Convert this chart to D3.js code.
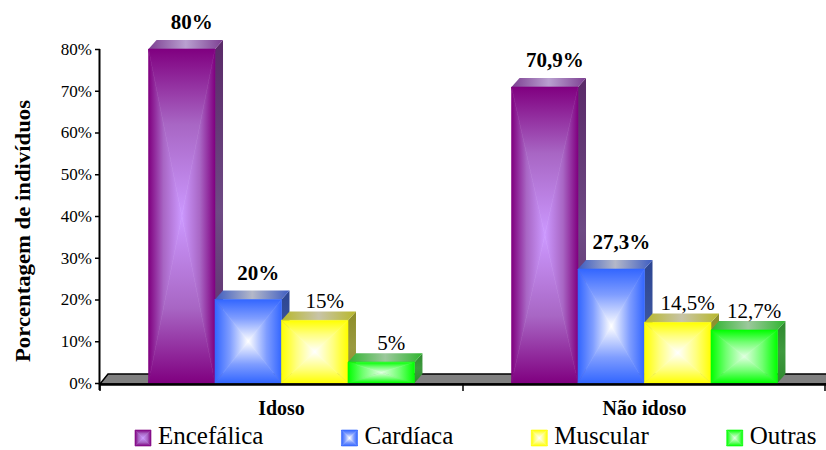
<!DOCTYPE html>
<html>
<head>
<meta charset="utf-8">
<script src="https://cdn.jsdelivr.net/npm/d3@7"></script>
</head>
<body style="margin:0">
<svg id="chart" width="826" height="450"></svg>
<script>
// Causes of death by age group (percent of individuals)
const categories = ["Idoso", "Não idoso"];
const seriesNames = ["Encefálica", "Cardíaca", "Muscular", "Outras"];
const idosoValues = [80, 20, 15, 5];
const naoIdosoValues = [70.9, 27.3, 14.5, 12.7];
const yTickValues = [0, 10, 20, 30, 40, 50, 60, 70, 80];
const boldLabelSeries = ["Encefálica", "Cardíaca"];

const FONT = "Liberation Serif";

// Per-series shading: front face goes from edge colour to a bright centre
const palette = {
  "Encefálica": { edge: "#800080", mid: "#a866c4", center: "#cc99ff", side: "#5a2a68", sideLight: "#6e4a84", top: "#7d3f92", topHi: "#b9a0d0" },
  "Cardíaca":   { edge: "#3366ff", mid: "#7f9dff", center: "#ffffff", side: "#2c4592", sideLight: "#3c559e", top: "#3d5cc2", topHi: "#b4b8c8" },
  "Muscular":   { edge: "#ffff00", mid: "#ffff80", center: "#ffffff", side: "#8c8c28", sideLight: "#9a9a40", top: "#b8b82a", topHi: "#c8c4a8" },
  "Outras":     { edge: "#00ff00", mid: "#70ff70", center: "#e0ffe0", side: "#2f8a2f", sideLight: "#3f9a3f", top: "#2fb52f", topHi: "#9cc89c" }
};

const rows = categories.map((c, i) => ({
  category: c,
  values: seriesNames.map((s, j) => ({ series: s, value: (i === 0 ? idosoValues : naoIdosoValues)[j] }))
}));

const svg = d3.select("#chart");
const defs = svg.append("defs");

const ptBR = d3.formatLocale({ decimal: ",", thousands: ".", grouping: [3], currency: ["R$", ""] });
const fmtInt = ptBR.format(".0f");
const fmtDec = ptBR.format(".1f");
const pctLabel = v => (Number.isInteger(v) ? fmtInt(v) : fmtDec(v)) + "%";

// Scales
const x0 = d3.scaleBand().domain(categories).range([100, 826]).paddingInner(0).paddingOuter(0);
const x1 = d3.scaleBand().domain(seriesNames).range([0, x0.bandwidth()]).paddingInner(0).paddingOuter(0.73);
const y = d3.scaleLinear().domain([0, 80]).range([383, 49]);
const depthX = 8, depthY = 9;

// Gradients
const keyOf = s => "s" + seriesNames.indexOf(s);
seriesNames.forEach(s => {
  const p = palette[s], k = keyOf(s);
  const dirs = { t: [0, 0, 0, 1], b: [0, 1, 0, 0], l: [0, 0, 1, 0], r: [1, 0, 0, 0] };
  Object.entries(dirs).forEach(([d, c]) => {
    const g = defs.append("linearGradient").attr("id", `${k}-${d}`)
      .attr("x1", c[0]).attr("y1", c[1]).attr("x2", c[2]).attr("y2", c[3]);
    g.append("stop").attr("offset", 0).attr("stop-color", p.edge);
    g.append("stop").attr("offset", 0.45).attr("stop-color", p.mid);
    g.append("stop").attr("offset", 1).attr("stop-color", p.center);
  });
  const top = defs.append("linearGradient").attr("id", `${k}-top`).attr("x1", 0).attr("x2", 1).attr("y1", 0).attr("y2", 0);
  top.append("stop").attr("offset", 0).attr("stop-color", p.top);
  top.append("stop").attr("offset", 0.5).attr("stop-color", p.topHi);
  top.append("stop").attr("offset", 1).attr("stop-color", p.top);
  const side = defs.append("linearGradient").attr("id", `${k}-side`).attr("x1", 0).attr("x2", 0).attr("y1", 0).attr("y2", 1);
  side.append("stop").attr("offset", 0).attr("stop-color", p.side);
  side.append("stop").attr("offset", 0.5).attr("stop-color", p.sideLight);
  side.append("stop").attr("offset", 1).attr("stop-color", p.side);
});

// Rectangle filled with a centre-out gradient built from four triangles
function pillow(g, x, yy, w, h, k) {
  const cx = x + w / 2, cy = yy + h / 2;
  const tris = [
    ["t", [[x, yy], [x + w, yy], [cx, cy]]],
    ["b", [[x, yy + h], [x + w, yy + h], [cx, cy]]],
    ["l", [[x, yy], [x, yy + h], [cx, cy]]],
    ["r", [[x + w, yy], [x + w, yy + h], [cx, cy]]]
  ];
  tris.forEach(([d, pts]) => {
    g.append("polygon").attr("points", pts.map(q => q.join(",")).join(" "))
      .attr("fill", `url(#${k}-${d})`).attr("stroke", `url(#${k}-${d})`).attr("stroke-width", 0.6);
  });
}

// Floor
const y0 = y(0);
svg.append("polygon")
  .attr("points", [[100, y0 + 1], [100 + depthX, y0 - depthY], [826 + depthX, y0 - depthY], [826, y0 + 1]].map(q => q.join(",")).join(" "))
  .attr("fill", "#808080").attr("stroke", "#000").attr("stroke-width", 1.5);

// Bars
const barsG = svg.append("g");
rows.forEach(r => {
  r.values.forEach(d => {
    const k = keyOf(d.series);
    const bx = x0(r.category) + x1(d.series);
    const bw = x1.bandwidth();
    const by = y(d.value);
    const g = barsG.append("g");
    // side face
    g.append("polygon")
      .attr("points", [[bx + bw, by], [bx + bw + depthX, by - depthY], [bx + bw + depthX, y0 - depthY], [bx + bw, y0]].map(q => q.join(",")).join(" "))
      .attr("fill", `url(#${k}-side)`);
    // top face
    g.append("polygon")
      .attr("points", [[bx, by], [bx + depthX, by - depthY], [bx + bw + depthX, by - depthY], [bx + bw, by]].map(q => q.join(",")).join(" "))
      .attr("fill", `url(#${k}-top)`);
    // front face
    pillow(g, bx, by, bw, y0 - by, k);
  });
});

// Value labels
const labelData = rows.flatMap(r => r.values.map(d => ({ ...d, category: r.category })));
svg.selectAll(".vlabel").data(labelData).enter().append("text")
  .attr("class", "vlabel")
  .attr("x", d => x0(d.category) + x1(d.series) + x1.bandwidth() / 2 + 10)
  .attr("y", d => y(d.value) - depthY - (boldLabelSeries.includes(d.series) ? 11 : 3))
  .attr("text-anchor", "middle")
  .attr("font-family", FONT)
  .attr("font-size", 21)
  .attr("font-weight", d => boldLabelSeries.includes(d.series) ? "bold" : "normal")
  .attr("fill", "#000")
  .text(d => pctLabel(d.value));

// Y axis
const yAxis = d3.axisLeft(y).tickValues(yTickValues).tickSize(5).tickPadding(3).tickFormat(v => v + "%");
const yg = svg.append("g").attr("transform", "translate(100,0)").call(yAxis);
yg.attr("font-family", FONT).attr("font-size", 17);
yg.select(".domain").attr("d", `M-0.5,${y(80)}V${y0 + 7}`).attr("stroke", "#000").attr("stroke-width", 2);
yg.selectAll(".tick line").attr("stroke", "#000").attr("stroke-width", 1.5);
yg.selectAll(".tick text").attr("fill", "#000").attr("font-family", FONT).attr("font-size", 17);

// X axis baseline and category separators
svg.append("line").attr("x1", 100).attr("x2", 826).attr("y1", y0 + 1.5).attr("y2", y0 + 1.5)
  .attr("stroke", "#000").attr("stroke-width", 2.5);
const sepTicks = [x0.range()[0], x0(categories[1]), x0.range()[1] - 1];
svg.selectAll(".xsep").data(sepTicks).enter().append("line")
  .attr("x1", d => d).attr("x2", d => d).attr("y1", y0).attr("y2", y0 + 8)
  .attr("stroke", "#000").attr("stroke-width", 1.5);
svg.selectAll(".xcat").data(categories).enter().append("text")
  .attr("x", d => x0(d) + x0.bandwidth() / 2)
  .attr("y", 415)
  .attr("text-anchor", "middle")
  .attr("font-family", FONT)
  .attr("font-size", 20)
  .attr("font-weight", "bold")
  .text(d => d);

// Y axis title
svg.append("text")
  .attr("transform", "translate(30,231) rotate(-90)")
  .attr("text-anchor", "middle")
  .attr("font-family", FONT)
  .attr("font-size", 20)
  .attr("font-weight", "bold")
  .attr("textLength", 262)
  .attr("lengthAdjust", "spacingAndGlyphs")
  .text("Porcentagem de indivíduos");

// Legend: square swatch + label, entries laid out left to right
const legendGap = 78;
const items = svg.selectAll(".legend").data(seriesNames).enter().append("g")
  .attr("class", "legend");
items.each(function (s) { pillow(d3.select(this), 0, 430, 16, 16, keyOf(s)); });
items.append("text")
  .attr("x", 23)
  .attr("y", 444)
  .attr("font-family", FONT)
  .attr("font-size", 25)
  .text(d => d);
let lx = 135;
items.each(function () {
  const g = d3.select(this);
  g.attr("transform", `translate(${lx},0)`);
  lx += 23 + g.select("text").node().getComputedTextLength() + legendGap;
});
</script>
</body>
</html>
